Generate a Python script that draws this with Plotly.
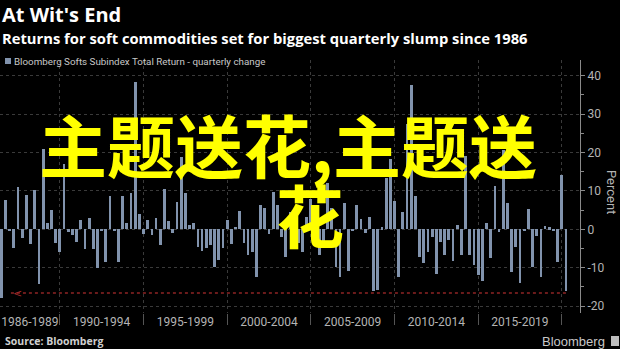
import plotly.graph_objects as go

# Bloomberg Softs Subindex Total Return, quarterly change (%), 1986 onwards
quarterly_change = [
    -18.0, 7.6, -0.4, -4.9, 10.9, -2.3, 8.9, -3.9, 10.2, -14.2,
    20.8, 1.6, 4.9, -3.6, -6.0, 16.9, -0.6, -1.6, -3.4, 2.4,
    -5.2, 2.9, -5.2, -10.2, -0.3, -8.4, 8.7, -0.4, -8.4, 8.7,
    1.6, 9.4, 38.3, 4.0, -1.2, 2.4, -1.6, 2.9, -4.1, 10.6,
    2.1, -1.0, 7.0, 18.9, 9.4, 1.1, 1.6, -4.5, -5.6, -4.9,
    -4.1, -9.7, -8.0, -4.9, 2.4, -3.8, 0.7, 4.8, -3.6, -6.7,
    -5.8, -12.5, 6.4, 5.5, -1.3, 9.6, 6.3, -2.0, -7.3, 4.6,
    -1.5, -3.5, -6.0, 3.3, 7.8, 5.5, -6.7, -3.0, 12.0, 5.5,
    -9.9, -12.5, 6.9, -10.9, -0.2, 6.3, 2.8, -1.0, 3.1, -16.0,
    -15.8, 0.5, 13.3, 18.2, 7.5, -12.3, 4.6, 27.4, 37.6, 8.7,
    -7.3, -8.7, -5.8, -1.9, -11.6, -3.2, -6.7, -2.8, -8.2, 1.0,
    -6.7, 19.0, -6.7, -9.2, -11.8, -13.5, 1.7, -7.4, 11.3, -0.8,
    20.7, 6.9, -11.0, -4.7, -14.1, -0.4, 5.3, -9.9, -1.7, -12.3,
    0.9, 0.5, -0.2, -8.4, 14.1, -16.1,
]
period_labels = ["1986-1989", "1990-1994", "1995-1999", "2000-2004",
                 "2005-2009", "2010-2014", "2015-2019"]
y_tick_values = [-20, -10, 0, 10, 20, 30, 40]
y_tick_labels = ["-20", "-10", "0", "10", "20", "30", "40"]
slump_level = -16.6

n = len(quarterly_change)
quarter_index = list(range(n))
x_range = [-0.31, 138.35]
y_range = [-21.8, 44.1]

# period boundaries every 20 quarters, labels centred between them
period_breaks = [14 + 20 * k for k in range(len(period_labels))]
edges = [x_range[0]] + period_breaks
label_pos = [(edges[k] + edges[k + 1]) / 2 for k in range(len(period_labels))]

BAR = "#8193ad"
GRID = "#3a3a3a"
AXIS_TXT = "#b4b4b4"
NARROW = "Liberation Sans Narrow, Arial Narrow, Roboto, Liberation Sans, sans-serif"

W, H = 620, 349
PLOT_TOP, PLOT_BOTTOM = 60, 313


def py(p):
    """pixel row -> paper y"""
    return (PLOT_BOTTOM - p) / (PLOT_BOTTOM - PLOT_TOP)


def px(p):
    """pixel column -> paper x (plot spans 0..580)"""
    return p / 580.0


fig = go.Figure(
    go.Bar(
        x=quarter_index,
        y=quarterly_change,
        width=0.66,
        marker=dict(color=BAR, line_width=0),
        showlegend=False,
    )
)

fig.update_layout(
    width=W,
    height=H,
    paper_bgcolor="black",
    plot_bgcolor="black",
    margin=dict(l=0, r=W - 580, t=PLOT_TOP, b=H - PLOT_BOTTOM),
    bargap=0,
    xaxis=dict(
        range=x_range,
        tickmode="array",
        tickvals=label_pos,
        ticktext=period_labels,
        ticks="",
        showgrid=False,
        zeroline=False,
        showline=False,
        tickfont=dict(family=NARROW, size=12, color=AXIS_TXT),
        minor=dict(
            tickmode="array",
            tickvals=period_breaks,
            ticks="outside",
            ticklen=11,
            tickcolor="#555555",
            showgrid=True,
            gridcolor=GRID,
            griddash="dot",
            gridwidth=1,
        ),
    ),
    yaxis=dict(
        side="right",
        range=y_range,
        tickmode="array",
        tickvals=y_tick_values,
        ticktext=y_tick_labels,
        showgrid=True,
        gridcolor=GRID,
        griddash="dot",
        gridwidth=1,
        zeroline=False,
        showline=True,
        linecolor="#8a8a8a",
        linewidth=1,
        ticks="outside",
        ticklen=4,
        tickcolor="#8a8a8a",
        tickfont=dict(family=NARROW, size=12, color=AXIS_TXT),
        minor=dict(dtick=5, tick0=0, ticks="outside", ticklen=3,
                   tickcolor="#8a8a8a", showgrid=False),
    ),
)

# dotted reference line back to the 1986 slump
fig.add_shape(type="line", xref="x", yref="y",
              x0=2.3, x1=n - 1, y0=slump_level, y1=slump_level,
              line=dict(color="#8e2424", width=1.5, dash="dot"))
fig.add_annotation(xref="x", yref="y", x=2.3, y=slump_level, text="<",
                   showarrow=False, xanchor="left", yanchor="middle",
                   font=dict(family="DejaVu Sans", size=11, color="#a02a2a"))

# legend swatch
fig.add_shape(type="rect", xref="paper", yref="paper",
              x0=px(5), x1=px(11), y0=py(64), y1=py(58),
              fillcolor=BAR, line_width=0)

annotations = [
    dict(text="<b>At Wit's End</b>", x=px(0), y=py(15), size=20,
         color="white", family="Open Sans, Liberation Sans, sans-serif"),
    dict(text="<b>Returns for soft commodities set for biggest quarterly slump since 1986</b>",
         x=px(0), y=py(37.5), size=14.75, color="white",
         family="Open Sans, Liberation Sans, sans-serif"),
    dict(text="Bloomberg Softs Subindex Total Return - quarterly change",
         x=px(12), y=py(61.5), size=9.8, color="#c8c8c8", family=NARROW),
    dict(text="<b>Source: Bloomberg</b>", x=px(3), y=py(341), size=10.5,
         color="#d0d0d0", family="Open Sans, Liberation Sans, sans-serif"),
]
for a in annotations:
    fig.add_annotation(xref="paper", yref="paper", x=a["x"], y=a["y"],
                       text=a["text"], showarrow=False, xanchor="left",
                       yanchor="middle",
                       font=dict(family=a["family"], size=a["size"], color=a["color"]))

fig.add_annotation(xref="paper", yref="paper", x=px(607), y=py(341),
                   text="Bloomberg", showarrow=False, xanchor="right",
                   yanchor="middle",
                   font=dict(family="Liberation Sans, sans-serif", size=13, color="#c8c8c8"))
fig.add_shape(type="rect", xref="paper", yref="paper",
              x0=px(611), x1=px(619), y0=py(346), y1=py(336),
              fillcolor="#bdbdbd", line_width=0)

fig.add_annotation(xref="paper", yref="paper", x=px(612), y=py(192),
                   text="Percent", textangle=90, showarrow=False,
                   xanchor="center", yanchor="middle",
                   font=dict(family=NARROW, size=13, color=AXIS_TXT))

# overlay caption
CJK = "Noto Sans CJK SC, Noto Sans CJK JP, sans-serif"
fig.add_annotation(xref="paper", yref="paper", x=px(288), y=py(143),
                   text="<b>主题送花,主题送</b>", showarrow=False,
                   xanchor="center", yanchor="middle",
                   font=dict(family=CJK, size=68, color="#ffff00"))
fig.add_annotation(xref="paper", yref="paper", x=px(310), y=py(213),
                   text="<b>花</b>", showarrow=False,
                   xanchor="center", yanchor="middle",
                   font=dict(family=CJK, size=68, color="#ffff00"))

fig.write_html("out.html")
